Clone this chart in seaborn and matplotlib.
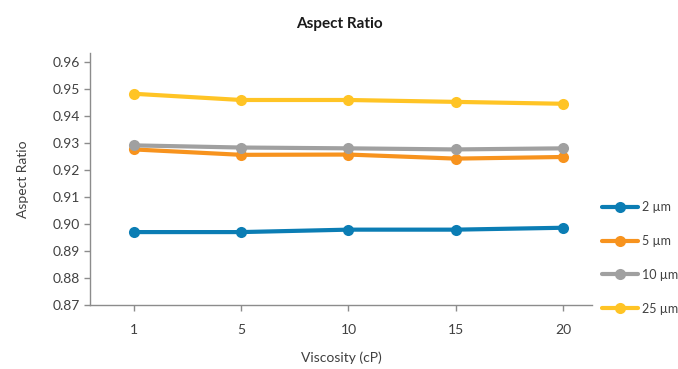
import matplotlib
matplotlib.use('Agg')
import matplotlib.pyplot as plt
import seaborn as sns
import pandas as pd

# 数据
viscosity = ['1', '5', '10', '15', '20']
series_names = ['2 µm', '5 µm', '10 µm', '25 µm']
ratio_2um = [0.8970, 0.8970, 0.8979, 0.8979, 0.8986]
ratio_5um = [0.9276, 0.9256, 0.9257, 0.9242, 0.9248]
ratio_10um = [0.9291, 0.9283, 0.9280, 0.9276, 0.9280]
ratio_25um = [0.9482, 0.9459, 0.9459, 0.9452, 0.9445]
colors = ['#0B7DB4', '#F7931E', '#A0A0A0', '#FFC425']

sns.set_style("white")
plt.rcParams['font.family'] = ['Lato', 'DejaVu Sans']
plt.rcParams['font.size'] = 10

fig = plt.figure(figsize=(6.78, 3.69), dpi=100)
ax = fig.add_axes([0.1327, 0.1734, 0.873 - 0.1327, 0.8564 - 0.1734])

all_values = [ratio_2um, ratio_5um, ratio_10um, ratio_25um]
for name, vals, c in zip(series_names, all_values, colors):
    df = pd.DataFrame({'Viscosity (cP)': viscosity, 'Aspect Ratio': vals})
    sns.lineplot(ax=ax, data=df, x='Viscosity (cP)', y='Aspect Ratio', sort=False,
                 color=c, linewidth=3, marker='o', markersize=8,
                 markeredgewidth=0, label=name)

ax.set_xlim(-0.41, 4.27)
ax.set_ylim(0.87, 0.9633)
ax.set_yticks([0.87 + 0.01 * i for i in range(10)])
ax.set_yticklabels([f"{0.87 + 0.01 * i:.2f}" for i in range(10)])

for side in ['top', 'right']:
    ax.spines[side].set_visible(False)
for side in ['left', 'bottom']:
    ax.spines[side].set_color('#8C8C8C')
    ax.spines[side].set_linewidth(1)
ax.tick_params(axis='both', which='major', length=4, width=1, color='#8C8C8C',
               labelcolor='#404040', labelsize=10, bottom=True, left=True)
ax.tick_params(axis='x', pad=10)
ax.tick_params(axis='y', pad=3)

ax.set_xlabel('Viscosity (cP)', color='#404040', fontsize=10, labelpad=11)
ax.set_ylabel('Aspect Ratio', color='#404040', fontsize=10, labelpad=17)
fig.suptitle('Aspect Ratio', x=0.5, y=0.955, fontsize=11, fontweight='bold', color='#1A1A1A')

ax.legend_.remove()
handles, labels = ax.get_legend_handles_labels()
leg = fig.legend(handles, labels, loc='center left', bbox_to_anchor=(0.879, 0.301),
                 frameon=False, borderpad=0, handlelength=2.9, handletextpad=0.25,
                 labelspacing=1.75, fontsize=9)
for t in leg.get_texts():
    t.set_color('#404040')

plt.savefig('out.png', dpi=100)
